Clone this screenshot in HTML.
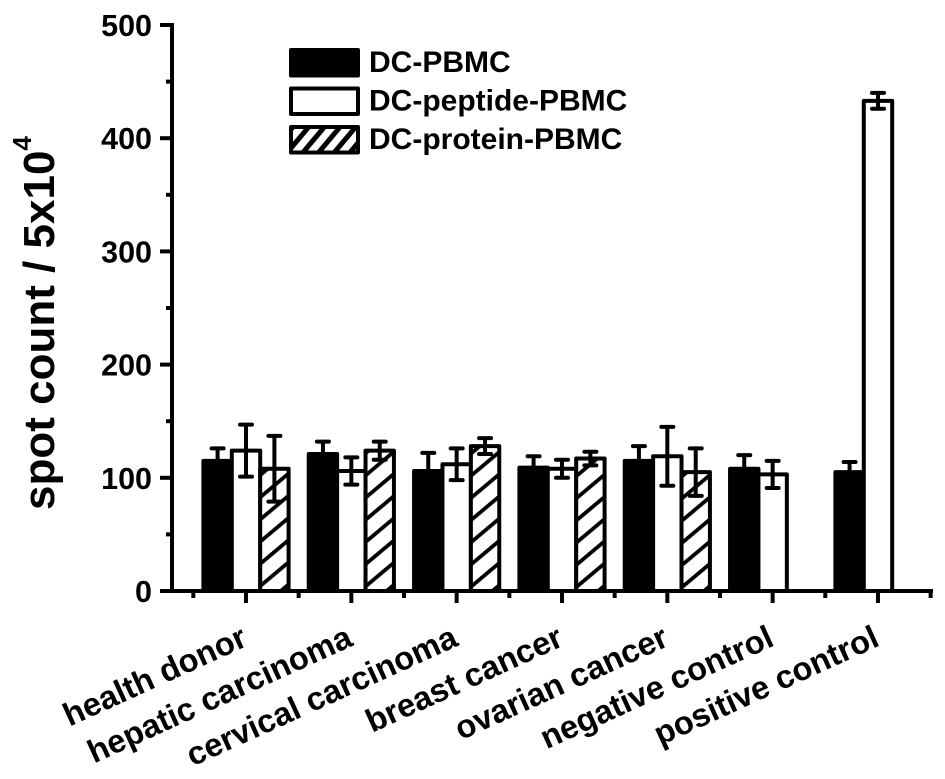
<!DOCTYPE html>
<html lang="en">
<head>
<meta charset="utf-8">
<title>Spot count by group</title>
<style>
html,body{margin:0;padding:0;background:#fff;}
svg{display:block;font-family:"Liberation Sans",Arial,sans-serif;font-weight:bold;fill:#000;}
</style>
</head>
<body>
<svg id="chart" width="945" height="779" viewBox="0 0 945 779" xmlns="http://www.w3.org/2000/svg">
<defs>
<pattern id="hatch" patternUnits="userSpaceOnUse" width="17" height="17" patternTransform="translate(0 3) rotate(-40)">
<rect width="17" height="17" fill="#fff"/><rect y="0" width="17" height="3.8" fill="#000"/>
</pattern>
<pattern id="hatch-legend" patternUnits="userSpaceOnUse" width="12" height="12" patternTransform="translate(3 2) rotate(-50)">
<rect width="12" height="12" fill="#fff"/><rect y="0" width="12" height="5" fill="#000"/>
</pattern>
</defs>
<g id="marks"></g>
<g id="axes"></g>
<g id="legend"></g>
<text id="ytitle" transform="translate(54 510) rotate(-90)" font-size="44">spot count / 5x10<tspan dy="-23" font-size="26">4</tspan></text>
</svg>
<script>
const categories = ["health donor","hepatic carcinoma","cervical carcinoma","breast cancer","ovarian cancer","negative control","positive control"];
const seriesNames = ["DC-PBMC","DC-peptide-PBMC","DC-protein-PBMC"];
const dcPbmc = [115,121,106,109,115,108,105];
const dcPbmcErr = [11,11,16,10,13,12,9];
const dcPeptide = [124,106,112,108,119,103,433];
const dcPeptideErr = [23,12,14,8,26,12,7];
const dcProtein = [108,124,128,117,105,null,null];
const dcProteinErr = [29,8,7,6,21,null,null];
const yTicks = [0,100,200,300,400,500];
const yMinorTicks = [50,150,250,350,450];

const NS = "http://www.w3.org/2000/svg";
const y = v => 591 - v * 1.132;
const x = i => 246 + i * 105.33;
const slot = 28.4;
function add(parent, tag, attrs, text) {
  const el = document.createElementNS(NS, tag);
  for (const k in attrs) el.setAttribute(k, attrs[k]);
  if (text !== undefined) el.textContent = text;
  parent.appendChild(el);
  return el;
}
const marks = document.getElementById("marks");
const axes = document.getElementById("axes");
const legend = document.getElementById("legend");
const values = [dcPbmc, dcPeptide, dcProtein];
const errors = [dcPbmcErr, dcPeptideErr, dcProteinErr];
const fills = ["#000", "#fff", "url(#hatch)"];

values.forEach((vals, s) => {
  vals.forEach((v, i) => {
    if (v === null) return;
    const left = x(i) + (s - 1.5) * slot;
    const bar = add(marks, "rect", {x: left, y: y(v), width: slot, height: y(0) - y(v), fill: fills[s], stroke: "#000", "stroke-width": 4, "stroke-linejoin": "round"});
    
    
  });
});
values.forEach((vals, s) => {
  vals.forEach((v, i) => {
    if (v === null) return;
    const cx = x(i) + (s - 1) * slot;
    const e = errors[s][i];
    const d = `M${cx} ${y(v + e)}V${y(v - e)}M${cx - 6} ${y(v + e)}H${cx + 6}M${cx - 6} ${y(v - e)}H${cx + 6}`;
    const err = add(marks, "path", {d: d, fill: "none", stroke: "#000", "stroke-width": 4, "stroke-linecap": "round"});
    
    
  });
});

// Y axis
const yLine = add(axes, "path", {d: `M172 ${y(500)-2}V${y(0)+2}`, stroke: "#000", "stroke-width": 4, fill: "none"});


yTicks.forEach(t => {
  const tick = add(axes, "path", {d: `M160 ${y(t)}H172`, stroke: "#000", "stroke-width": 4});
  
  
  const label = add(axes, "text", {x: 152, y: y(t) + 11, "text-anchor": "end", "font-size": 30.5}, String(t));
  
  
});
yMinorTicks.forEach(t => {
  const tick = add(axes, "path", {d: `M166 ${y(t)}H172`, stroke: "#000", "stroke-width": 4});
  
  
});

// X axis
const xLine = add(axes, "path", {d: `M160 591H933`, stroke: "#000", "stroke-width": 4, fill: "none"});


categories.forEach((c, i) => {
  const tick = add(axes, "path", {d: `M${x(i)} 591V603`, stroke: "#000", "stroke-width": 4});
  
  
  const label = add(axes, "text", {transform: `translate(${x(i) + 3} 645) rotate(-24.5)`, "text-anchor": "end", "font-size": 32.6}, c);
  
  
});
for (let i = 0; i <= categories.length; i++) {
  const mx = x(i) - 105.33 / 2;
  const tick = add(axes, "path", {d: `M${mx} 591V598`, stroke: "#000", "stroke-width": 4});
  
  
}

// Legend
const legendFills = ["#000", "#fff", "url(#hatch-legend)"];
seriesNames.forEach((n, s) => {
  const top = 50 + s * 38.5;
  const swatch = add(legend, "rect", {x: 291, y: top, width: 67, height: 25.5, fill: legendFills[s], stroke: "#000", "stroke-width": 4, "stroke-linejoin": "round"});
  
  
  const label = add(legend, "text", {x: 369, y: top + 22, "font-size": 30}, n);
  
  
});
</script>
</body>
</html>
